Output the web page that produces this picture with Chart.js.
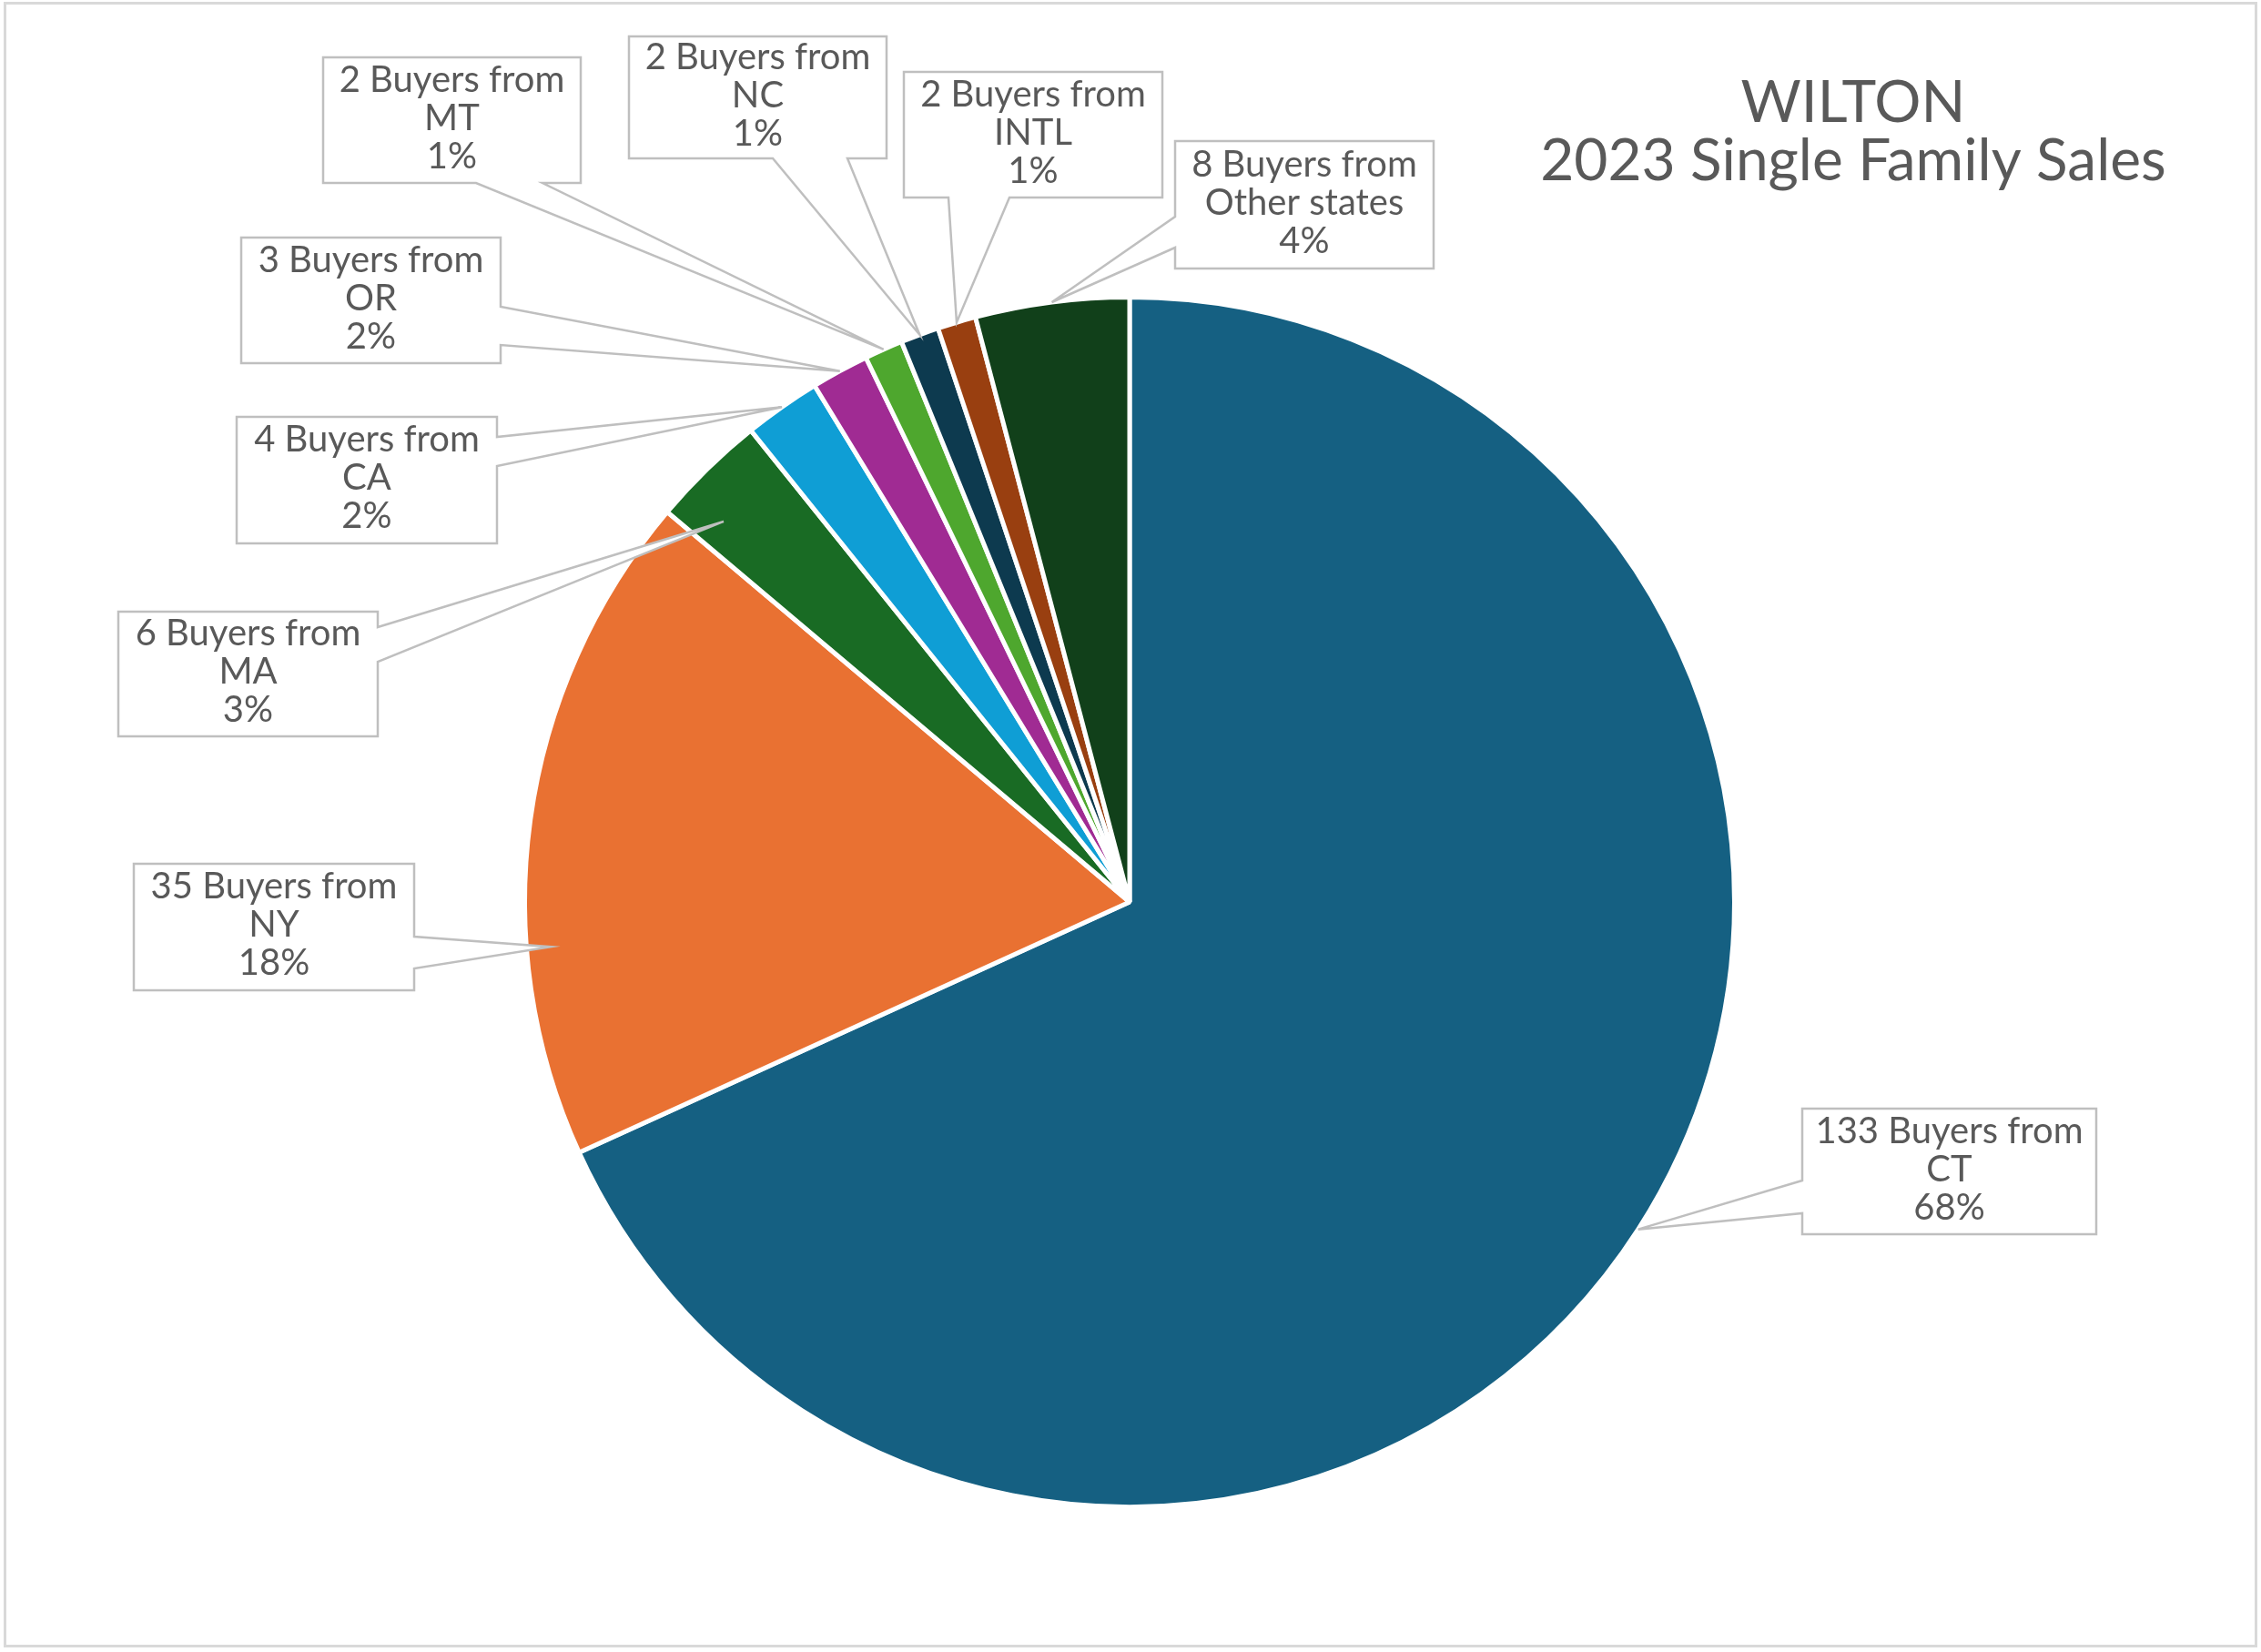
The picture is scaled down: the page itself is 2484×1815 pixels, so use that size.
<!DOCTYPE html>
<html><head><meta charset="utf-8">
<script src="https://cdn.jsdelivr.net/npm/chart.js@4.4.1/dist/chart.umd.min.js"></script>
<style>html,body{margin:0;padding:0;background:#fff;}#wrap{width:2484px;height:1815px;position:relative;}</style>
</head><body><div id="wrap"><canvas id="c" width="2484" height="1815"></canvas></div>
<script>
const categories = ['CT','NY','MA','CA','OR','MT','NC','INTL','Other states'];
const buyers = [133,35,6,4,3,2,2,2,8];
const colors = ['#156082','#E97132','#196B24','#0F9ED5','#A02B93','#4EA72E','#0D3A4F','#993F10','#11401A'];
const titleLines = ['WILTON','2023 Single Family Sales'];

// callout box layout (pixels), pointer base positions along one side, pointer tip position along slice
const callouts = [
 {box:[1980,1218,2303,1356], side:'left',   base:[1297,1333]},               // CT
 {box:[147,949,455,1088],    side:'right',  base:[1029,1064], at:0.31, rf:0.96}, // NY
 {box:[130,672,415,809],     side:'right',  base:[689,727],  at:0.27, rf:0.92}, // MA
 {box:[260,458,546,597],     side:'right',  base:[480,512]},                 // CA
 {box:[265,261,550,399],     side:'right',  base:[337,379]},                 // OR
 {box:[355,63,638,201],      side:'bottom', base:[523,596]},                 // MT
 {box:[691,40,974,174],      side:'bottom', base:[849,931]},                 // NC
 {box:[993,79,1277,217],     side:'bottom', base:[1042,1109]},               // INTL
 {box:[1291,155,1575,295],   side:'left',   base:[238,272]}                  // Other
];

const FONT = 'Lato, "Open Sans", sans-serif';
const TEXT_COLOR = '#595959';
const LINE_COLOR = '#BFBFBF';

const framePlugin = {
  id: 'frame',
  beforeDraw(chart) {
    const ctx = chart.ctx;
    ctx.save();
    ctx.fillStyle = '#fff';
    ctx.fillRect(0, 0, chart.width, chart.height);
    ctx.strokeStyle = '#D9D9D9';
    ctx.lineWidth = 3;
    ctx.strokeRect(5.5, 3.5, 2473, 1805);
    ctx.restore();
  }
};

const calloutPlugin = {
  id: 'callouts',
  afterDatasetsDraw(chart) {
    const ctx = chart.ctx;
    const meta = chart.getDatasetMeta(0);
    const total = buyers.reduce((a, b) => a + b, 0);
    ctx.save();
    callouts.forEach((c, i) => {
      const arc = meta.data[i];
      const p = arc.getProps(['x', 'y', 'startAngle', 'endAngle', 'outerRadius'], true);
      const at = c.at ?? 0.5, rf = c.rf ?? 1.0;
      const ang = p.startAngle + (p.endAngle - p.startAngle) * at;
      const r = p.outerRadius * rf;
      const tx = p.x + Math.cos(ang) * r, ty = p.y + Math.sin(ang) * r;
      const [x1, y1, x2, y2] = c.box;
      const [b0, b1] = c.base;
      ctx.beginPath();
      ctx.moveTo(x1, y1);
      ctx.lineTo(x2, y1);
      if (c.side === 'right') { ctx.lineTo(x2, b0); ctx.lineTo(tx, ty); ctx.lineTo(x2, b1); }
      ctx.lineTo(x2, y2);
      if (c.side === 'bottom') { ctx.lineTo(b1, y2); ctx.lineTo(tx, ty); ctx.lineTo(b0, y2); }
      ctx.lineTo(x1, y2);
      if (c.side === 'left') { ctx.lineTo(x1, b1); ctx.lineTo(tx, ty); ctx.lineTo(x1, b0); }
      ctx.closePath();
      ctx.fillStyle = '#fff';
      ctx.fill();
      ctx.strokeStyle = LINE_COLOR;
      ctx.lineWidth = 2.5;
      ctx.lineJoin = 'miter';
      ctx.stroke();

      const lines = [buyers[i] + ' Buyers from', categories[i], Math.round(buyers[i] / total * 100) + '%'];
      ctx.fillStyle = TEXT_COLOR;
      ctx.font = '40px ' + FONT;
      ctx.textAlign = 'center';
      ctx.textBaseline = 'middle';
      const cx = (x1 + x2) / 2, cy = (y1 + y2) / 2 - 2;
      const lh = 42;
      lines.forEach((t, k) => ctx.fillText(t, cx, cy + (k - 1) * lh));
    });

    // title
    ctx.fillStyle = TEXT_COLOR;
    ctx.font = '64px ' + FONT;
    ctx.textAlign = 'center';
    ctx.textBaseline = 'alphabetic';
    ctx.fillText(titleLines[0], 2036, 134);
    ctx.fillText(titleLines[1], 2036, 198);
    ctx.restore();
  }
};

new Chart(document.getElementById('c'), {
  type: 'pie',
  data: {
    labels: categories,
    datasets: [{
      data: buyers,
      backgroundColor: colors,
      borderColor: '#ffffff',
      borderWidth: 5
    }]
  },
  options: {
    responsive: false,
    animation: false,
    layout: { padding: { left: 574, right: 576, top: 324, bottom: 157 } },
    plugins: { legend: { display: false }, tooltip: { enabled: false }, title: { display: false } }
  },
  plugins: [framePlugin, calloutPlugin]
});
</script>
</body></html>
